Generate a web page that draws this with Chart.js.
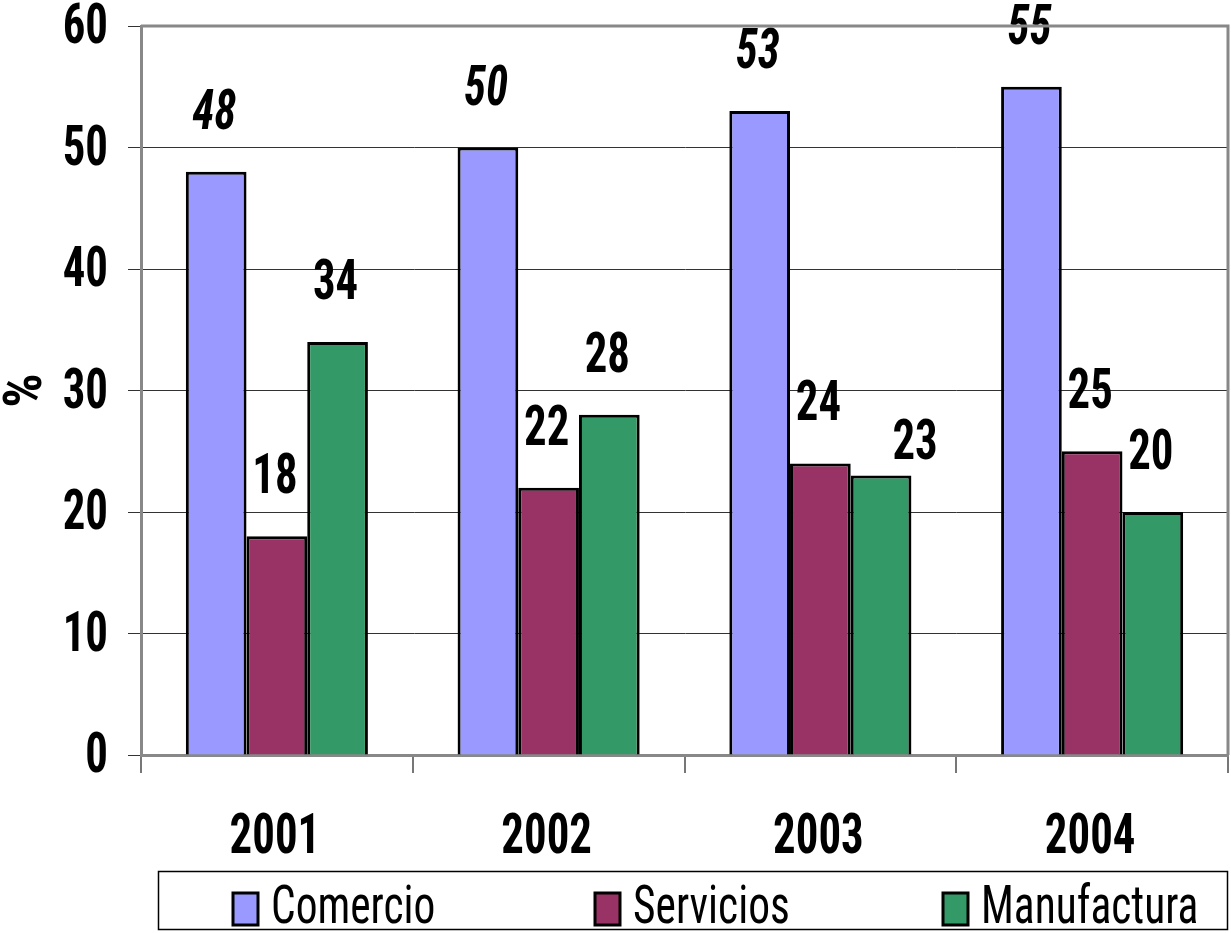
<!DOCTYPE html>
<html>
<head>
<meta charset="utf-8">
<script src="https://cdn.jsdelivr.net/npm/chart.js@4.4.1/dist/chart.umd.min.js"></script>
<style>
  body { margin: 0; background: #fff; }
  #wrap { width: 1231px; height: 933px; }
</style>
</head>
<body>
<div id="wrap"><canvas id="chart" width="1231" height="933"></canvas></div>
<script>
// data
const years = ['2001', '2002', '2003', '2004'];
const comercio = [48, 50, 53, 55];
const servicios = [18, 22, 24, 25];
const manufactura = [34, 28, 23, 20];
const yTicks = [0, 10, 20, 30, 40, 50, 60];

const FONT = "'Roboto Condensed', 'Open Sans', sans-serif";
const SQUISH = 0.8;   // the original lettering is narrower than Roboto Condensed

// draw text squeezed horizontally around its anchor
function narrowText(ctx, text, x, y, align, sx) {
    ctx.save();
    ctx.translate(x, y);
    ctx.scale(sx, 1);
    ctx.textAlign = align;
    ctx.fillText(text, 0, 0);
    ctx.restore();
}

// tick labels, placed with the chart's own scales
const tickLabels = {
    id: 'tickLabels',
    afterDraw(chart) {
        const ctx = chart.ctx;
        const xs = chart.scales.x;
        const ys = chart.scales.y;
        ctx.save();
        ctx.fillStyle = '#000';
        ctx.textBaseline = 'alphabetic';
        ctx.font = 'bold 56px ' + FONT;
        ys.ticks.forEach(function (t) {
            narrowText(ctx, String(t.value), ys.right - 33, ys.getPixelForValue(t.value) + 17, 'right', SQUISH);
        });
        chart.data.labels.forEach(function (lab, i) {
            narrowText(ctx, lab, xs.getPixelForTick(i) - 2, 853, 'center', SQUISH);
        });
        ctx.restore();
    }
};

// value labels above the bars (Comercio ones are italic)
const valueLabels = {
    id: 'valueLabels',
    afterDatasetsDraw(chart) {
        const ctx = chart.ctx;
        ctx.save();
        ctx.fillStyle = '#000';
        ctx.textBaseline = 'alphabetic';
        chart.data.datasets.forEach(function (ds, i) {
            const meta = chart.getDatasetMeta(i);
            ctx.font = (ds.italicLabel ? 'italic ' : '') + 'bold 56px ' + FONT;
            meta.data.forEach(function (bar, j) {
                const off = (ds.labelShift && ds.labelShift[j]) || [0, 0];
                narrowText(ctx, String(ds.data[j]), bar.x + off[0] - 2, bar.y - 43 + off[1], 'center', SQUISH);
            });
        });
        ctx.restore();
    }
};

// grey frame on top / right of the plot and the boxed legend at the bottom
const frameAndLegend = {
    id: 'frameAndLegend',
    afterDraw(chart) {
        const ctx = chart.ctx;
        const a = chart.chartArea;
        ctx.save();
        ctx.strokeStyle = '#888';
        ctx.lineWidth = 3;
        ctx.beginPath();
        ctx.moveTo(a.left, a.top);
        ctx.lineTo(a.right, a.top);
        ctx.lineTo(a.right, a.bottom);
        ctx.stroke();

        // legend box
        ctx.strokeStyle = '#000';
        ctx.lineWidth = 1.5;
        ctx.strokeRect(158.5, 871.5, 1069, 58);

        const boxX = [233, 595, 943];
        ctx.font = '53px ' + FONT;
        ctx.textBaseline = 'alphabetic';
        chart.data.datasets.forEach(function (ds, i) {
            ctx.fillStyle = ds.backgroundColor;
            ctx.fillRect(boxX[i], 893, 25, 32);
            ctx.strokeStyle = '#000';
            ctx.lineWidth = 3;
            ctx.strokeRect(boxX[i], 893, 25, 32);
            ctx.fillStyle = '#000';
            narrowText(ctx, ds.label, boxX[i] + 38, 923, 'left', 0.82);
        });
        ctx.restore();
    }
};

new Chart(document.getElementById('chart'), {
    type: 'bar',
    data: {
        labels: years,
        datasets: [
            {
                label: 'Comercio',
                data: comercio,
                backgroundColor: '#9999FF',
                borderColor: '#000',
                borderWidth: 3,
                italicLabel: true
            },
            {
                label: 'Servicios',
                data: servicios,
                backgroundColor: '#993366',
                borderColor: '#000',
                borderWidth: 3
            },
            {
                label: 'Manufactura',
                data: manufactura,
                backgroundColor: '#339966',
                borderColor: '#000',
                borderWidth: 3,
                labelShift: [null, null, [36, 26], null]
            }
        ]
    },
    options: {
        responsive: false,
        animation: false,
        layout: { padding: { top: 26, right: 3, left: 0, bottom: 0 } },
        plugins: {
            legend: { display: false },
            tooltip: { enabled: false }
        },
        datasets: {
            bar: { categoryPercentage: 0.67, barPercentage: 1.0 }
        },
        scales: {
            x: {
                offset: true,
                grid: {
                    offset: true,
                    drawOnChartArea: false,
                    drawTicks: true,
                    tickLength: 18,
                    color: '#777',
                    lineWidth: 2
                },
                border: { color: '#888', width: 3 },
                ticks: { display: false },
                afterFit(scale) { scale.height = 178; }
            },
            y: {
                min: 0,
                max: 60,
                afterBuildTicks(scale) {
                    scale.ticks = yTicks.map(function (v) { return { value: v }; });
                },
                grid: {
                    color: '#333',
                    lineWidth: 1,
                    tickLength: 13
                },
                border: { color: '#888', width: 3 },
                ticks: { display: false },
                title: {
                    display: true,
                    text: '%',
                    color: '#000',
                    padding: { top: 0, bottom: 0 },
                    font: { family: FONT, size: 54, weight: 'bold', lineHeight: 1.0 }
                },
                afterFit(scale) { scale.width = 141; }
            }
        }
    },
    plugins: [valueLabels, tickLabels, frameAndLegend]
});
</script>
</body>
</html>
